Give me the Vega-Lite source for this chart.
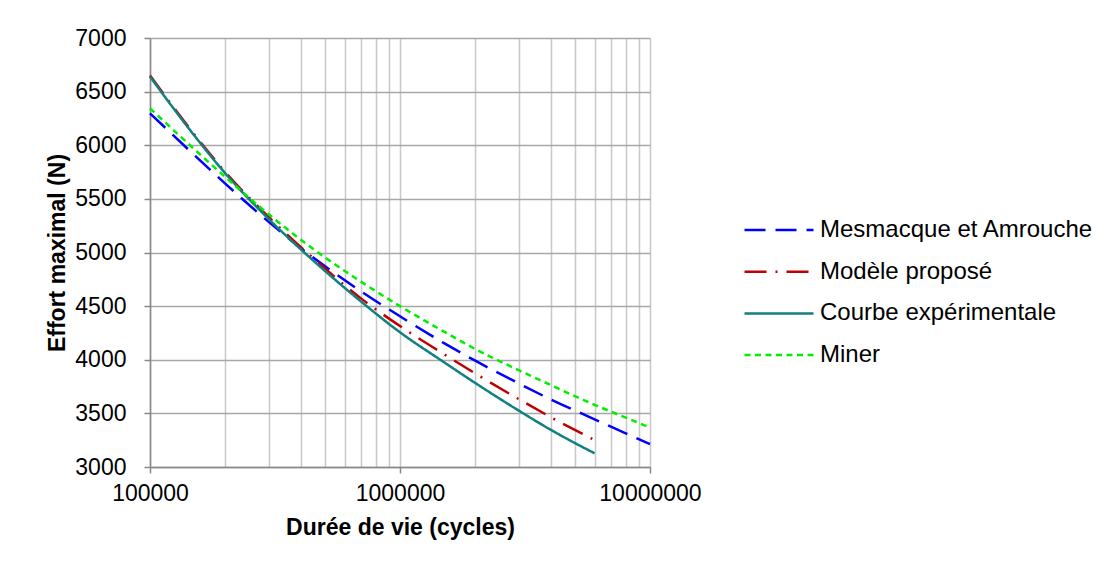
{
  "$schema": "https://vega.github.io/schema/vega-lite/v6.json",
  "width": 500,
  "height": 429,
  "autosize": {"type": "none"},
  "padding": {"left": 150, "top": 38, "right": 458, "bottom": 105},
  "background": "white",
  "config": {"view": {"stroke": null}, "font": "Liberation Sans"},
  "data": {"values": [
    {"serie": "Mesmacque et Amrouche", "N": 100000, "F": 6298},
    {"serie": "Mesmacque et Amrouche", "N": 150000, "F": 5911},
    {"serie": "Mesmacque et Amrouche", "N": 200000, "F": 5642},
    {"serie": "Mesmacque et Amrouche", "N": 300000, "F": 5281},
    {"serie": "Mesmacque et Amrouche", "N": 400000, "F": 5043},
    {"serie": "Mesmacque et Amrouche", "N": 500000, "F": 4873},
    {"serie": "Mesmacque et Amrouche", "N": 700000, "F": 4636},
    {"serie": "Mesmacque et Amrouche", "N": 1000000, "F": 4405},
    {"serie": "Mesmacque et Amrouche", "N": 1500000, "F": 4155},
    {"serie": "Mesmacque et Amrouche", "N": 2000000, "F": 3991},
    {"serie": "Mesmacque et Amrouche", "N": 3000000, "F": 3777},
    {"serie": "Mesmacque et Amrouche", "N": 4000000, "F": 3631},
    {"serie": "Mesmacque et Amrouche", "N": 6000000, "F": 3445},
    {"serie": "Mesmacque et Amrouche", "N": 8000000, "F": 3314},
    {"serie": "Mesmacque et Amrouche", "N": 10000000, "F": 3214},
    {"serie": "Modèle proposé", "N": 100000, "F": 6650},
    {"serie": "Modèle proposé", "N": 150000, "F": 6105},
    {"serie": "Modèle proposé", "N": 200000, "F": 5750},
    {"serie": "Modèle proposé", "N": 300000, "F": 5325},
    {"serie": "Modèle proposé", "N": 400000, "F": 5053},
    {"serie": "Modèle proposé", "N": 500000, "F": 4853},
    {"serie": "Modèle proposé", "N": 700000, "F": 4570},
    {"serie": "Modèle proposé", "N": 1000000, "F": 4314},
    {"serie": "Modèle proposé", "N": 1500000, "F": 4052},
    {"serie": "Modèle proposé", "N": 2000000, "F": 3872},
    {"serie": "Modèle proposé", "N": 3000000, "F": 3630},
    {"serie": "Modèle proposé", "N": 4000000, "F": 3466},
    {"serie": "Modèle proposé", "N": 6000000, "F": 3251},
    {"serie": "Courbe expérimentale", "N": 100000, "F": 6640},
    {"serie": "Courbe expérimentale", "N": 150000, "F": 6094},
    {"serie": "Courbe expérimentale", "N": 200000, "F": 5738},
    {"serie": "Courbe expérimentale", "N": 300000, "F": 5307},
    {"serie": "Courbe expérimentale", "N": 400000, "F": 5032},
    {"serie": "Courbe expérimentale", "N": 500000, "F": 4830},
    {"serie": "Courbe expérimentale", "N": 700000, "F": 4541},
    {"serie": "Courbe expérimentale", "N": 1000000, "F": 4256},
    {"serie": "Courbe expérimentale", "N": 1500000, "F": 3977},
    {"serie": "Courbe expérimentale", "N": 2000000, "F": 3783},
    {"serie": "Courbe expérimentale", "N": 3000000, "F": 3523},
    {"serie": "Courbe expérimentale", "N": 4000000, "F": 3348},
    {"serie": "Courbe expérimentale", "N": 6000000, "F": 3128},
    {"serie": "Miner", "N": 100000, "F": 6344},
    {"serie": "Miner", "N": 150000, "F": 5966},
    {"serie": "Miner", "N": 200000, "F": 5704},
    {"serie": "Miner", "N": 300000, "F": 5352},
    {"serie": "Miner", "N": 400000, "F": 5121},
    {"serie": "Miner", "N": 500000, "F": 4956},
    {"serie": "Miner", "N": 700000, "F": 4726},
    {"serie": "Miner", "N": 1000000, "F": 4500},
    {"serie": "Miner", "N": 1500000, "F": 4262},
    {"serie": "Miner", "N": 2000000, "F": 4100},
    {"serie": "Miner", "N": 3000000, "F": 3900},
    {"serie": "Miner", "N": 4000000, "F": 3765},
    {"serie": "Miner", "N": 6000000, "F": 3580},
    {"serie": "Miner", "N": 8000000, "F": 3460},
    {"serie": "Miner", "N": 10000000, "F": 3367}
  ]},
  "mark": {"type": "line", "interpolate": "monotone", "strokeWidth": 2.5},
  "encoding": {
    "x": {
      "field": "N", "type": "quantitative",
      "scale": {"type": "log", "domain": [100000, 10000000]},
      "axis": {
        "values": [100000, 200000, 300000, 400000, 500000, 600000, 700000, 800000, 900000, 1000000, 2000000, 3000000, 4000000, 5000000, 6000000, 7000000, 8000000, 9000000, 10000000],
        "format": "d",
        "labelExpr": "datum.value == 100000 || datum.value == 1000000 || datum.value == 10000000 ? datum.label : ''",
        "labelOverlap": false,
        "labelBound": false,
        "labelFlush": false,
        "title": "Durée de vie (cycles)",
        "grid": true,
        "gridColor": "#c8c8c8",
        "gridWidth": 1.5,
        "domainColor": "#888888",
        "domainWidth": 1.5,
        "tickColor": "#888888",
        "tickWidth": 1.5,
        "tickSize": {"condition": {"test": "datum.value == 100000 || datum.value == 1000000 || datum.value == 10000000", "value": 6}, "value": 0},
        "labelFontSize": 23,
        "labelColor": "#000000",
        "labelPadding": 9,
        "titleFontSize": 23,
        "titleFontWeight": "bold",
        "titleColor": "#000000",
        "titlePadding": 11
      }
    },
    "y": {
      "field": "F", "type": "quantitative",
      "scale": {"domain": [3000, 7000], "nice": false, "zero": false},
      "axis": {
        "values": [3000, 3500, 4000, 4500, 5000, 5500, 6000, 6500, 7000],
        "format": "d",
        "title": "Effort maximal (N)",
        "grid": true,
        "gridColor": "#a8a8a8",
        "gridWidth": 1.5,
        "domainColor": "#888888",
        "domainWidth": 1.5,
        "tickColor": "#888888",
        "tickWidth": 1.5,
        "tickSize": 6,
        "labelFontSize": 23,
        "labelColor": "#000000",
        "labelPadding": 18,
        "titleFontSize": 23,
        "titleFontWeight": "bold",
        "titleColor": "#000000",
        "titlePadding": 5
      }
    },
    "color": {
      "field": "serie", "type": "nominal",
      "scale": {
        "domain": ["Mesmacque et Amrouche", "Modèle proposé", "Courbe expérimentale", "Miner"],
        "range": ["#0000ff", "#c00000", "#108080", "#00ee00"]
      },
      "legend": {
        "title": null,
        "orient": "none",
        "legendX": 593,
        "legendY": 180,
        "padding": 0,
        "symbolType": "stroke",
        "symbolSize": 4761,
        "symbolStrokeWidth": 2.5,
        "clipHeight": 24,
        "rowPadding": 17.7,
        "labelFontSize": 24,
        "labelColor": "#000000",
        "labelOffset": 5,
        "labelLimit": 400
      }
    },
    "strokeDash": {
      "field": "serie", "type": "nominal",
      "scale": {
        "domain": ["Mesmacque et Amrouche", "Modèle proposé", "Courbe expérimentale", "Miner"],
        "range": [[21, 10], [22, 9, 2, 9], [1, 0], [6, 4.5]]
      }
    }
  }
}
